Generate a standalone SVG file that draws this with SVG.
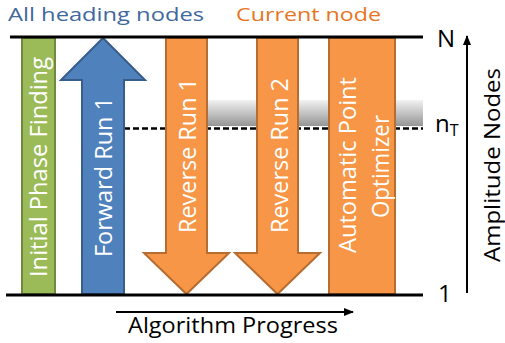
<svg xmlns="http://www.w3.org/2000/svg" width="505" height="343" viewBox="0 0 505 343">
<style>
text{font-family:"Open Sans","Liberation Sans",sans-serif}
.in{fill:#fff;font-size:24px;text-anchor:middle}
.lbl{fill:#000;font-size:24px}
.green{fill:#9bbb59;stroke:#71893f;stroke-width:2}
.blue{fill:#4f81bd;stroke:#385d8a;stroke-width:2}
.orange{fill:#f79646;stroke:#b66d31;stroke-width:2}
.rule{stroke:#000;stroke-width:3}
</style>
<defs>
<linearGradient id="band" x1="0" y1="0" x2="0" y2="1">
<stop offset="0" stop-color="#f2f2f2"/>
<stop offset="1" stop-color="#959595"/>
</linearGradient>
<marker id="ah" markerWidth="10" markerHeight="10" refX="9" refY="5" orient="auto" markerUnits="userSpaceOnUse">
<path d="M0,1 L10,5 L0,9 Z" fill="#000"/>
</marker>
</defs>
<text x="8" y="21" font-size="19" fill="#41689c" textLength="196" lengthAdjust="spacingAndGlyphs">All heading nodes</text>
<text x="236" y="21" font-size="19" fill="#e8751f" textLength="145" lengthAdjust="spacingAndGlyphs">Current node</text>
<rect x="207" y="100" width="216" height="26" fill="url(#band)"/>
<g id="connectors">
<line x1="124" y1="128.5" x2="423" y2="128.5" stroke="#000" stroke-width="2.5" stroke-dasharray="6,3"/>
<line x1="116" y1="312" x2="353" y2="312" stroke="#000" stroke-width="2" marker-end="url(#ah)"/>
<line x1="467" y1="293" x2="467" y2="36" stroke="#000" stroke-width="2" marker-end="url(#ah)"/>
</g>
<g id="initial-phase">
<rect class="green" x="22" y="38" width="33" height="256"/>
<text class="in" transform="translate(47,167) rotate(-90)" textLength="220" lengthAdjust="spacingAndGlyphs">Initial Phase Finding</text>
</g>
<g id="forward-run-1">
<path class="blue" d="M82,294 L82,80 L61,80 L103,38 L145,80 L124,80 L124,294 Z"/>
<text class="in" transform="translate(112,177) rotate(-90)" textLength="160" lengthAdjust="spacingAndGlyphs">Forward Run 1</text>
</g>
<g id="reverse-run-1">
<path class="orange" d="M166,38 L207,38 L207,253 L229,253 L186.5,294 L144,253 L166,253 Z"/>
<text class="in" transform="translate(196,155.5) rotate(-90)" textLength="155" lengthAdjust="spacingAndGlyphs">Reverse Run 1</text>
</g>
<g id="reverse-run-2">
<path class="orange" d="M257,38 L298,38 L298,253 L320,253 L277.5,294 L235,253 L257,253 Z"/>
<text class="in" transform="translate(288,155.5) rotate(-90)" textLength="155" lengthAdjust="spacingAndGlyphs">Reverse Run 2</text>
</g>
<g id="automatic-point-optimizer">
<rect class="orange" x="329" y="38" width="66" height="256"/>
<text class="in" transform="translate(356,165) rotate(-90)" textLength="176" lengthAdjust="spacingAndGlyphs">Automatic Point</text>
<text class="in" transform="translate(389,166.5) rotate(-90)" textLength="103" lengthAdjust="spacingAndGlyphs">Optimizer</text>
</g>
<line class="rule" x1="10" y1="37" x2="423" y2="37"/>
<line class="rule" x1="6" y1="295" x2="423" y2="295"/>
<text class="lbl" x="437" y="47">N</text>
<text class="lbl" x="435" y="132">n<tspan font-size="16" dy="4">T</tspan></text>
<text class="lbl" x="438" y="302">1</text>
<text x="128" y="333" font-size="22" fill="#000" textLength="210" lengthAdjust="spacingAndGlyphs">Algorithm Progress</text>
<text transform="translate(500,165) rotate(-90)" font-size="22" fill="#000" text-anchor="middle" textLength="194" lengthAdjust="spacingAndGlyphs">Amplitude Nodes</text>
</svg>
